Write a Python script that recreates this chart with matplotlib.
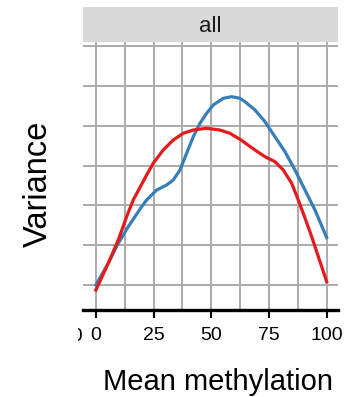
import matplotlib.pyplot as plt
from matplotlib.transforms import Bbox, TransformedBbox

plt.rcParams["font.family"] = ["Liberation Sans", "DejaVu Sans"]

# values
red_x = [0, 5.33, 9.67, 13.31, 16.17, 19.07, 21.98, 24.84, 29.17, 33.51,
         37.84, 42.18, 47.98, 53.75, 58.08, 62.42, 68.92, 73.26, 77.59,
         81.19, 84.83, 87.69, 90.59, 93.5, 100]
red_y = [0.00874, 0.01545, 0.02131, 0.02716, 0.03136, 0.0345, 0.03764,
         0.04058, 0.04392, 0.04643, 0.04812, 0.04894, 0.04937, 0.04894,
         0.04812, 0.04661, 0.04392, 0.04224, 0.04098, 0.03889, 0.03555,
         0.03136, 0.02683, 0.02214, 0.01083]
blue_x = [0, 5.33, 9.67, 14.0, 19.81, 21.98, 26.31, 30.65, 33.51, 36.41,
          39.31, 42.18, 45.08, 47.98, 50.85, 55.18, 58.82, 62.42, 64.59,
          68.92, 73.26, 77.59, 81.92, 86.26, 90.59, 94.93, 100]
blue_y = [0.0100, 0.01545, 0.02048, 0.02465, 0.02967, 0.03136, 0.03387,
          0.03513, 0.03638, 0.03889, 0.04309, 0.04726, 0.05063, 0.05314,
          0.05523, 0.05691, 0.05731, 0.05691, 0.05606, 0.05397, 0.05103,
          0.04726, 0.04349, 0.03889, 0.03387, 0.02884, 0.0219]
x_ticks = [0, 25, 50, 75, 100]
x_minor = [12.5, 37.5, 62.5, 87.5]
y_grid = [0.01, 0.02, 0.03, 0.04, 0.05, 0.06, 0.07]

W, H = 351, 397
fig = plt.figure(figsize=(W / 100, H / 100), dpi=100)

# panel
ax = fig.add_axes([83 / W, 1 - 310 / H, 255 / W, 268.5 / H])
ax.set_xlim(-5.6, 104.9)
ax.set_ylim(0.00372, 0.07118)
ax.set_xticks(x_ticks)
ax.set_xticks(x_minor, minor=True)
ax.set_yticks(y_grid)
ax.set_yticklabels([])
ax.grid(True, which="both", color="#ababab", lw=1.4)
ax.set_axisbelow(True)
for s in ("top", "right", "left"):
    ax.spines[s].set_visible(False)
ax.spines["bottom"].set_linewidth(2.4)
ax.tick_params(axis="y", length=0)
ax.tick_params(axis="x", which="major", length=6, width=1.5, pad=6,
               labelsize=14, colors="black")
ax.tick_params(axis="x", which="minor", length=0)

ax.plot(blue_x, blue_y, color="#377EB8", lw=2.3, solid_joinstyle="round")
ax.plot(red_x, red_y, color="#E41A1C", lw=2.3, solid_joinstyle="round")

# facet strip
sax = fig.add_axes([83 / W, 1 - 41.5 / H, 255 / W, 34.5 / H])
sax.set_facecolor("#d9d9d9")
sax.set_xticks([]); sax.set_yticks([])
for s in sax.spines.values():
    s.set_visible(False)
fig.text(210.5 / W, 1 - 32 / H, "all", ha="center", va="baseline",
         fontsize=16, color="#1a1a1a")

# axis titles
fig.text(46.7 / W, 1 - 184 / H, "Variance", rotation=90, rotation_mode="anchor",
         ha="center", va="baseline", fontsize=23.5)
fig.text(218 / W, 1 - 390 / H, "Mean methylation", ha="center", va="baseline",
         fontsize=21)

# clipped tail of the neighbouring facet's last tick label
t = fig.text(83.5 / W, 1 - 341 / H, "100", ha="right", va="baseline", fontsize=14)
t.set_clip_box(TransformedBbox(Bbox.from_extents(78 / W, 0, 1, 1), fig.transFigure))

fig.savefig("out.png", dpi=100)
